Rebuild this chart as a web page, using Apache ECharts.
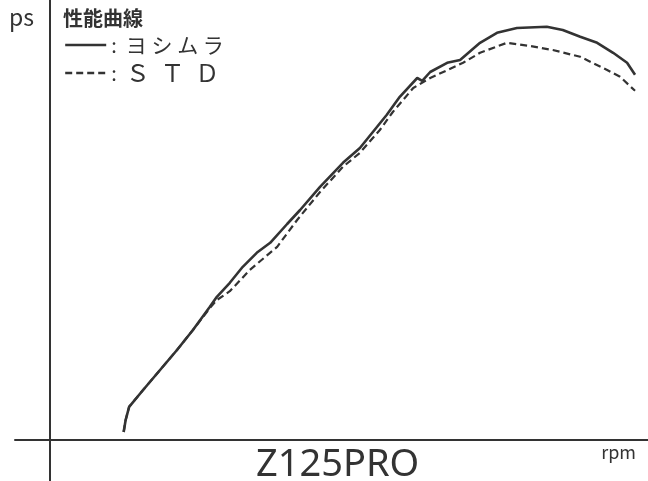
<!DOCTYPE html>
<html>
<head>
<meta charset="utf-8">
<script src="https://cdn.jsdelivr.net/npm/echarts@6/dist/echarts.min.js"></script>
<style>
  html, body { margin: 0; padding: 0; background: #fff; }
  #chart { width: 648px; height: 481px; }
</style>
</head>
<body>
<div id="chart"></div>
<script>
// 性能曲線 Z125PRO (ps vs rpm)
const yoshimuraRpm = [1480, 1520, 1590, 1870, 2210, 2550, 2870, 3210, 3350, 3610, 3870, 4150, 4420, 4760, 5020, 5420, 5880, 6220, 6760, 7020, 7370, 7470, 7630, 7970, 8230, 8630, 8970, 9370, 9970, 10290, 10640, 10980, 11300, 11580, 11740]
const yoshimuraPs = [0.2, 0.5, 0.83, 1.25, 1.75, 2.25, 2.75, 3.33, 3.58, 3.93, 4.33, 4.68, 4.93, 5.4, 5.75, 6.33, 6.93, 7.3, 8.13, 8.58, 9.05, 8.98, 9.2, 9.43, 9.5, 9.93, 10.18, 10.3, 10.33, 10.25, 10.08, 9.93, 9.68, 9.43, 9.13]

const stdRpm = [1480, 1520, 1590, 1870, 2210, 2550, 2870, 3210, 3350, 3610, 4010, 4560, 4960, 5420, 5880, 6220, 6620, 6880, 7290, 7630, 8290, 8630, 9170, 9630, 10090, 10640, 11180, 11440, 11740]
const stdPs = [0.2, 0.5, 0.83, 1.25, 1.75, 2.25, 2.75, 3.3, 3.5, 3.72, 4.25, 4.83, 5.5, 6.2, 6.83, 7.18, 7.75, 8.2, 8.8, 9.05, 9.43, 9.68, 9.93, 9.85, 9.75, 9.58, 9.25, 9.08, 8.73]

const seriesNames = ['ヨシムラ', 'STD']
const legendLabels = { 'ヨシムラ': ':  {k|ヨ シ ム ラ}', 'STD': ':  {w|Ｓ  Ｔ  Ｄ}' }

const ink = '#333'
const jp = '"Noto Sans CJK JP", sans-serif'

const chart = echarts.init(document.getElementById('chart'))

chart.setOption({
  animation: false,
  backgroundColor: '#fff',
  title: [
    { text: 'ps', left: 4, top: 1, textStyle: { fontFamily: jp, fontSize: 23, fontWeight: 'normal', color: ink } },
    { text: '性能曲線', left: 58, top: 3, textStyle: { fontFamily: jp, fontSize: 20, fontWeight: 'bold', color: ink } }
  ],
  legend: {
    orient: 'vertical',
    left: 59,
    top: 29,
    itemWidth: 41,
    itemHeight: 14,
    itemGap: 5,
    data: seriesNames,
    itemStyle: { opacity: 0 },
    lineStyle: { width: 2.4 },
    formatter: (name) => legendLabels[name],
    textStyle: {
      fontFamily: jp, fontSize: 20, lineHeight: 22, color: ink,
      rich: {
        k: { fontFamily: jp, fontSize: 21, lineHeight: 22, color: ink },
        w: { fontFamily: jp, fontSize: 24, lineHeight: 22, color: ink }
      }
    }
  },
  grid: { left: 15, right: 0, top: 0, bottom: 0 },
  xAxis: {
    type: 'value',
    min: -700,
    max: 12000,
    axisLine: { onZero: true, lineStyle: { color: ink, width: 2 } },
    axisTick: { show: false },
    axisLabel: { show: false },
    splitLine: { show: false }
  },
  yAxis: {
    type: 'value',
    min: -1.025,
    max: 11,
    axisLine: { show: true, onZero: true, lineStyle: { color: ink, width: 2 } },
    axisTick: { show: false },
    axisLabel: { show: false },
    splitLine: { show: false }
  },
  graphic: [
    {
      type: 'text',
      left: 256,
      top: 446,
      style: { text: 'Z125PRO', fontFamily: '"Noto Sans", sans-serif', fontSize: 38, fill: ink }
    },
    {
      type: 'text',
      right: 12,
      top: 443,
      style: { text: 'rpm', fontFamily: jp, fontSize: 18, fill: ink }
    }
  ],
  series: [
    {
      name: seriesNames[0],
      type: 'line',
      symbol: 'none',
      data: yoshimuraRpm.map((r, i) => [r, yoshimuraPs[i]]),
      lineStyle: { color: ink, width: 2.6 },
      itemStyle: { color: ink }
    },
    {
      name: seriesNames[1],
      type: 'line',
      symbol: 'none',
      data: stdRpm.map((r, i) => [r, stdPs[i]]),
      lineStyle: { color: ink, width: 2.2, type: [7, 4] },
      itemStyle: { color: ink }
    }
  ]
})
</script>
</body>
</html>
